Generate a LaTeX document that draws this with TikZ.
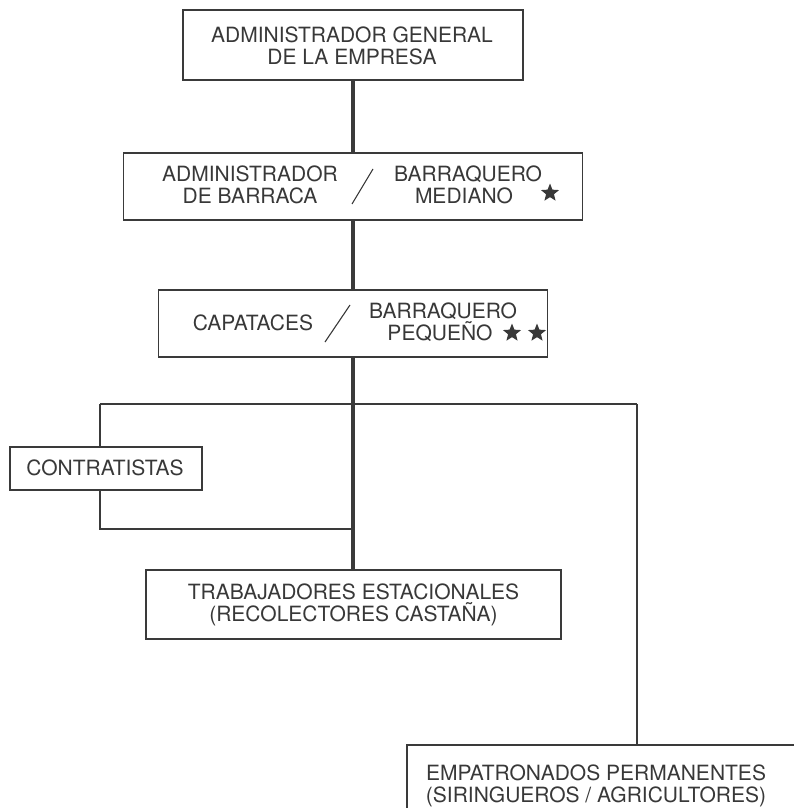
\documentclass[tikz,border=0pt]{standalone}
\usepackage{fontspec}
\setmainfont{TeX Gyre Heros}
\usetikzlibrary{shapes.geometric}
\definecolor{ink}{HTML}{3A3A3A}
\definecolor{txt}{HTML}{383838}
\tikzset{
  orgbox/.style={draw=ink, line width=1.6pt, rectangle, inner sep=0pt},
  label/.style={text=txt, inner sep=0pt, align=center,
    font=\fontsize{21pt}{22pt}\selectfont},
  trunk/.style={draw=ink, line width=3.6pt},
  branch/.style={draw=ink, line width=1.3pt},
  slash/.style={draw=txt, line width=1.1pt},
  starmark/.style={star, star points=5, star point ratio=2.3, fill=txt,
    draw=none, minimum size=19pt, inner sep=0pt},
}
\begin{document}
\begin{tikzpicture}[x=1pt, y=-1pt]
\clip (0,0) rectangle (794,808);
\useasboundingbox (0,0) rectangle (794,808);

% boxes
\node[orgbox, minimum width=340pt, minimum height=70pt] (gen) at (353,45) {};
\node[orgbox, minimum width=459pt, minimum height=67pt] (adm) at (353,186.5) {};
\node[orgbox, minimum width=389pt, minimum height=67pt] (cap) at (353,323.5) {};
\node[orgbox, minimum width=192pt, minimum height=43pt] (con) at (106,468.5) {};
\node[orgbox, minimum width=415pt, minimum height=69pt] (tra) at (353.5,604.5) {};
\node[orgbox, minimum width=393pt, minimum height=72pt] (emp) at (603.5,781) {};

% texts
\node[label] (tgen) at (352,45.5) {ADMINISTRADOR GENERAL\\DE LA EMPRESA};
\node[label] (tadm) at (250,185) {ADMINISTRADOR\\DE BARRACA};
\node[label] (tmed) at (468,185) {BARRAQUERO\\\hspace*{-8pt}MEDIANO};
\node[label] (tcapa) at (253,323) {CAPATACES};
\node[label] (tpeq) at (443,322) {BARRAQUERO\\\hspace*{-6pt}PEQUEÑO};
\node[label] (tcon) at (105,468) {CONTRATISTAS};
\node[label] (ttra) at (353.5,604.5) {TRABAJADORES ESTACIONALES\\(RECOLECTORES CASTAÑA)};
\node[label] (temp) at (596,786) {EMPATRONADOS PERMANENTES\\(SIRINGUEROS / AGRICULTORES)};

% slashes and stars
\coordinate (s1a) at (373,169);
\coordinate (s1b) at (352,204);
\draw[slash] (s1a) -- (s1b);
\coordinate (s2a) at (350,305);
\coordinate (s2b) at (325,342);
\draw[slash] (s2a) -- (s2b);
\node[starmark] (st1) at (550,193) {};
\node[starmark] (st2) at (512,333) {};
\node[starmark] (st3) at (537,333) {};

% main line of command
\draw[trunk] (gen.south) -- (adm.north);
\draw[trunk] (adm.south) -- (cap.north);
\draw[trunk] (cap.south) -- (tra.north -| cap.south);

% branches
\coordinate (split) at (353,404);
\coordinate (lt) at (100,404);
\coordinate (rt) at (637,404);
\coordinate (lb) at (100,529);
\coordinate (join) at (353,529);
\draw[branch] (lt) -- (rt);
\draw[branch] (lt) -- (con.north -| lt);
\draw[branch] (con.south -| lb) -- (lb) -- (join);
\draw[branch] (rt) -- (emp.north -| rt);
\end{tikzpicture}
\end{document}
